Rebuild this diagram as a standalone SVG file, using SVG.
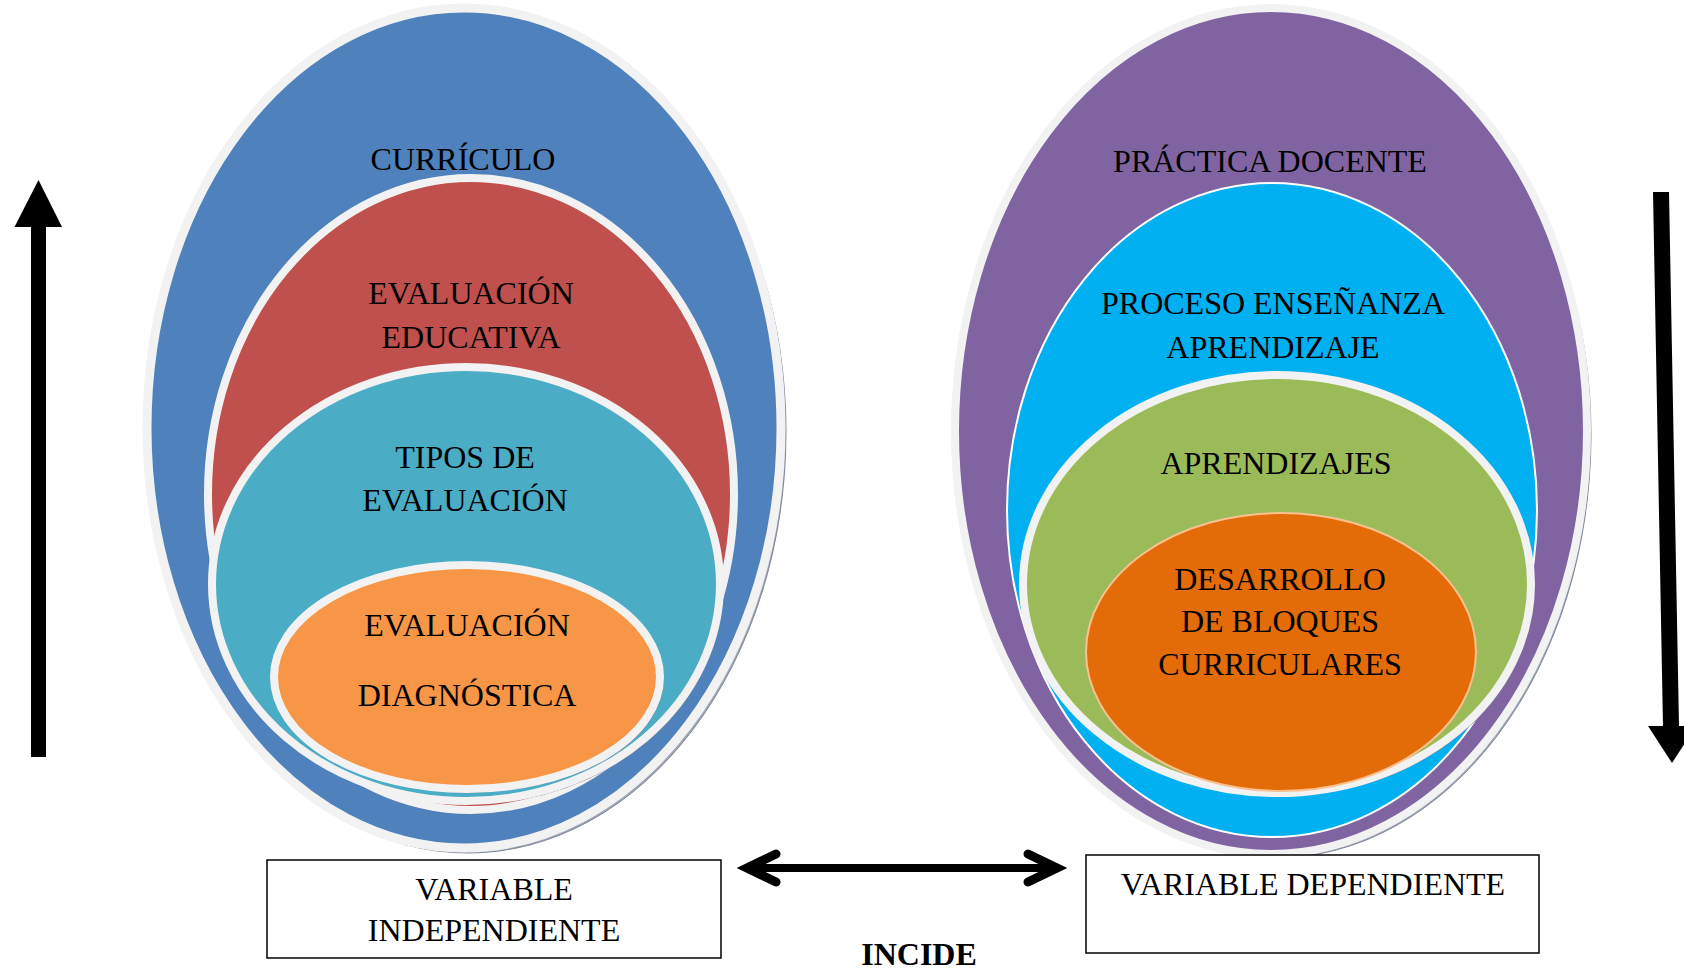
<svg xmlns="http://www.w3.org/2000/svg" width="1684" height="970" viewBox="0 0 1684 970">
<style>
.t{font-family:"Liberation Serif","Times New Roman",serif;font-size:32px;fill:#000;text-anchor:middle}
.b{font-weight:bold}
.ring{stroke:#f2f2f2}
.sh{fill:#9ea6b3;stroke:#7d8799;stroke-width:1}
.box{fill:#fff;stroke:#000;stroke-width:1.5}
</style>
<rect width="1684" height="970" fill="#fff"/>
<g id="curriculo">
<ellipse class="sh" cx="468" cy="432" rx="318" ry="421"/>
<ellipse class="ring" cx="464" cy="428" rx="317" ry="420" fill="#4f81bd" stroke-width="9"/>
<text class="t" x="463" y="170">CURRÍCULO</text>
</g>
<g id="evaluacion-educativa">
<ellipse class="sh" cx="474" cy="496" rx="263" ry="316"/>
<ellipse class="ring" cx="471" cy="494" rx="263" ry="316" fill="#c0504d" stroke-width="8"/>
<text class="t" x="471" y="304">EVALUACIÓN</text>
<text class="t" x="471" y="348">EDUCATIVA</text>
</g>
<g id="tipos-evaluacion">
<ellipse class="sh" cx="469" cy="587" rx="254" ry="217"/>
<ellipse class="ring" cx="466" cy="584" rx="254" ry="217" fill="#4bacc6" stroke-width="8"/>
<text class="t" x="465" y="468">TIPOS DE</text>
<text class="t" x="465" y="511">EVALUACIÓN</text>
</g>
<g id="evaluacion-diagnostica">
<ellipse class="sh" cx="470" cy="680" rx="193" ry="112" fill="#c9894f"/>
<ellipse class="ring" cx="467" cy="677" rx="193" ry="112" fill="#f79646" stroke-width="8"/>
<text class="t" x="467" y="636">EVALUACIÓN</text>
<text class="t" x="467" y="706">DIAGNÓSTICA</text>
</g>
<g id="practica-docente">
<ellipse class="sh" cx="1275" cy="435" rx="316" ry="423"/>
<ellipse class="ring" cx="1271" cy="431" rx="316" ry="423" fill="#8064a2" stroke-width="8"/>
<text class="t" x="1270" y="172">PRÁCTICA DOCENTE</text>
</g>
<g id="proceso-ensenanza">
<ellipse cx="1272" cy="510" rx="265" ry="327" fill="#00b0f0" stroke="#fff" stroke-width="2"/>
<text class="t" x="1273" y="314">PROCESO ENSEÑANZA</text>
<text class="t" x="1273" y="358">APRENDIZAJE</text>
</g>
<g id="aprendizajes">
<ellipse class="sh" cx="1280" cy="587" rx="254" ry="209" fill="#5a8a7a"/>
<ellipse class="ring" cx="1277" cy="584" rx="254" ry="209" fill="#9bbb59" stroke-width="8"/>
<text class="t" x="1276" y="474">APRENDIZAJES</text>
</g>
<g id="desarrollo-bloques">
<ellipse cx="1281" cy="652" rx="195" ry="139" fill="#e36c09" stroke="#fac090" stroke-width="2"/>
<text class="t" x="1280" y="590">DESARROLLO</text>
<text class="t" x="1280" y="632">DE BLOQUES</text>
<text class="t" x="1280" y="675">CURRICULARES</text>
</g>
<g id="variable-independiente">
<rect class="box" x="267" y="860" width="454" height="98"/>
<text class="t" x="494" y="900">VARIABLE</text>
<text class="t" x="494" y="941">INDEPENDIENTE</text>
</g>
<g id="variable-dependiente">
<rect class="box" x="1086" y="855" width="453" height="98"/>
<text class="t" x="1313" y="895">VARIABLE DEPENDIENTE</text>
</g>
<g id="incide">
<text class="t b" x="919" y="965">INCIDE</text>
</g>
<g id="connectors">
<line x1="748" y1="868" x2="1056" y2="868" stroke="#000" stroke-width="8"/>
<polyline points="776,854 747,868 776,882" fill="none" stroke="#000" stroke-width="9" stroke-linecap="round" stroke-linejoin="miter"/>
<polyline points="1028,854 1057,868 1028,882" fill="none" stroke="#000" stroke-width="9" stroke-linecap="round" stroke-linejoin="miter"/>
<polygon points="31,757 46,757 46,226 31,226" fill="#000"/>
<polygon points="38.5,180 14.5,227 62,227" fill="#000"/>
<polygon points="1653,192 1669,192 1679,727 1663,727" fill="#000"/>
<polygon points="1648,726 1696,726 1672,763" fill="#000"/>
</g>
</svg>
